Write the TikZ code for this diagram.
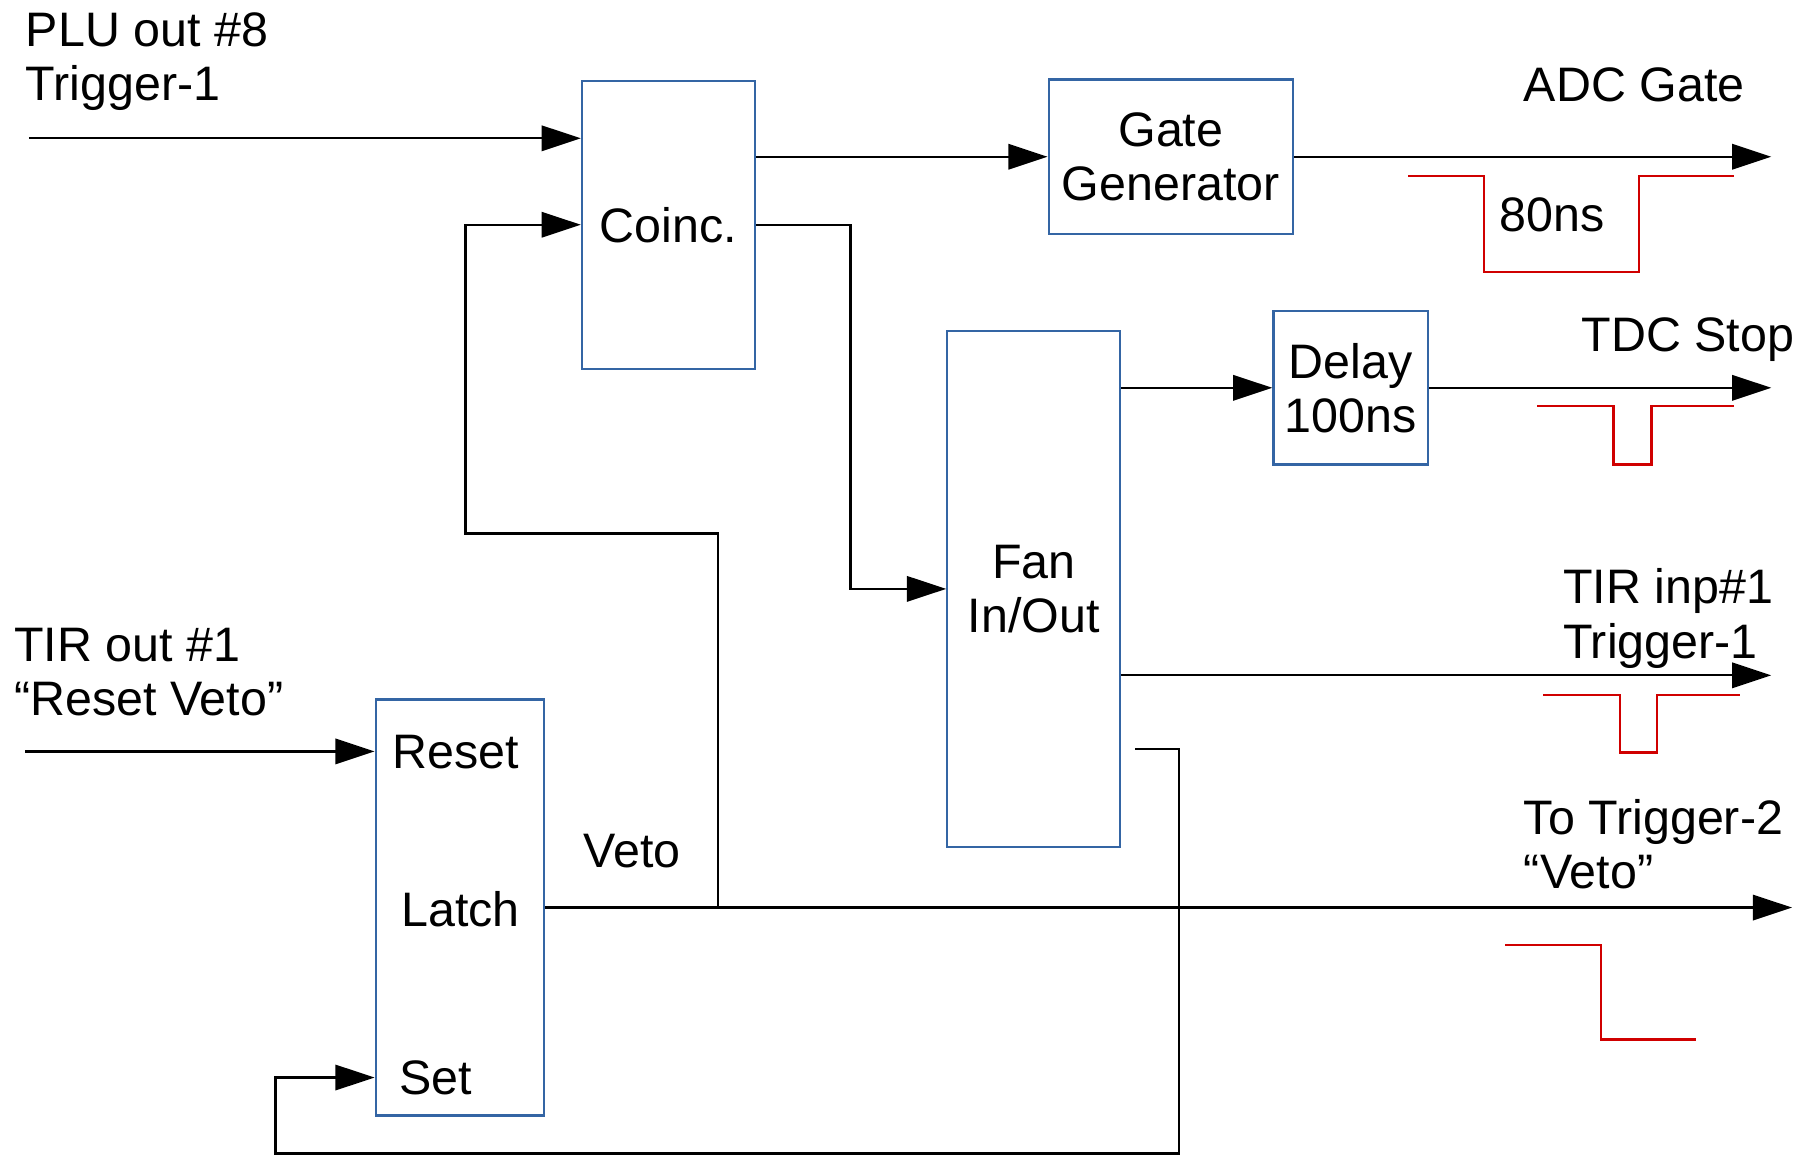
\documentclass[tikz,border=0pt]{standalone}
\usepackage{fontspec}
\setmainfont{Liberation Sans}
\usetikzlibrary{arrows.meta}
\definecolor{boxblue}{HTML}{3465A4}
\definecolor{pulsered}{HTML}{D00000}
\begin{document}
\begin{tikzpicture}[x=0.5pt,y=-0.5pt,
  every node/.style={font=\fontsize{21}{23.5}\selectfont, inner sep=0pt},
  box/.style={draw=boxblue, line width=1pt, align=center},
  lbl/.style={anchor=base west},
  wire/.style={line width=1pt},
  arr/.style={wire, -{Triangle[length=17pt,width=11pt]}},
  pulse/.style={draw=pulsered, line width=1pt}]
\useasboundingbox (0,0) rectangle (1568,1003);

% boxes
\node[box, minimum width=75pt, minimum height=125pt] (coinc) at (580,195) {Coinc.};
\node[box, minimum width=106pt, minimum height=67pt] (gate) at (1016,136) {Gate\\Generator};
\node[box, minimum width=75pt, minimum height=224pt] (fan) at (897,511) {Fan\\In/Out};
\node[box, minimum width=67pt, minimum height=66.5pt] (delay) at (1172,336.5) {Delay\\100ns};
\node[box, minimum width=73pt, minimum height=180.5pt] (latch) at (399,787.5) {};

% labels
\node[lbl] (plu1) at (22,40) {PLU out \#8};
\node[lbl] (plu2) at (22,87) {Trigger-1};
\node[lbl] (adc) at (1322,88) {ADC Gate};
\node[anchor=base] (ns80) at (1347,201) {80ns};
\node[lbl] (tdc) at (1372,305) {TDC Stop};
\node[lbl] (tir1) at (1356,524) {TIR inp\#1};
\node[lbl] (tir2) at (1356,571) {Trigger-1};
\node[lbl] (tiro1) at (12,574) {TIR out \#1};
\node[lbl] (tiro2) at (12,621) {“Reset Veto”};
\node[lbl] (reset) at (340,667) {Reset};
\node[lbl] (latchtxt) at (348,804) {Latch};
\node[lbl] (settxt) at (346,950) {Set};
\node[lbl] (veto) at (506,753) {Veto};
\node[lbl] (trg2a) at (1322,724) {To Trigger-2};
\node[lbl] (trg2b) at (1322,771) {“Veto”};

% free ends
\coordinate (pluin) at (25,120);
\coordinate (resetin) at (22,652);
\coordinate (adcend) at (1537,136);
\coordinate (tdcend) at (1537,336.5);
\coordinate (tirend) at (1537,586);
\coordinate (vetoend) at (1555,787.5);
\coordinate (fanout2) at (985,650);
\coordinate (vj) at (623,787.5);

% connectors
\draw[arr] (pluin) -- (coinc.west |- pluin);
\draw[arr] (coinc.east |- gate.west) -- (gate.west);
\draw[arr] (coinc.east) -- (738,195) |- (fan.west);
\draw[arr] (gate.east) -- (adcend);
\draw[arr] (fan.east |- delay.west) -- (delay.west);
\draw[arr] (delay.east) -- (tdcend);
\draw[arr] (fan.east |- tirend) -- (tirend);
\draw[arr] (resetin) -- (latch.west |- resetin);
\draw[arr] (latch.east) -- (vetoend);
\draw[arr] (vj) -- (623,463) -- (404,463) |- (coinc.west);
\draw[arr] (fanout2) -- (1023,650) -- (1023,1001) -- (239,1001) |- (latch.west |- 0,935);

% pulses
\draw[pulse] (1222,153) -- (1288,153) -- (1288,236) -- (1422,236) -- (1422,153) -- (1505,153);
\draw[pulse] (1334,352) -- (1400,352) -- (1400,403) -- (1433,403) -- (1433,352) -- (1505,352);
\draw[pulse] (1339,603) -- (1406,603) -- (1406,653) -- (1438,653) -- (1438,603) -- (1510,603);
\draw[pulse] (1306,820) -- (1389,820) -- (1389,902) -- (1472,902);
\end{tikzpicture}
\end{document}
